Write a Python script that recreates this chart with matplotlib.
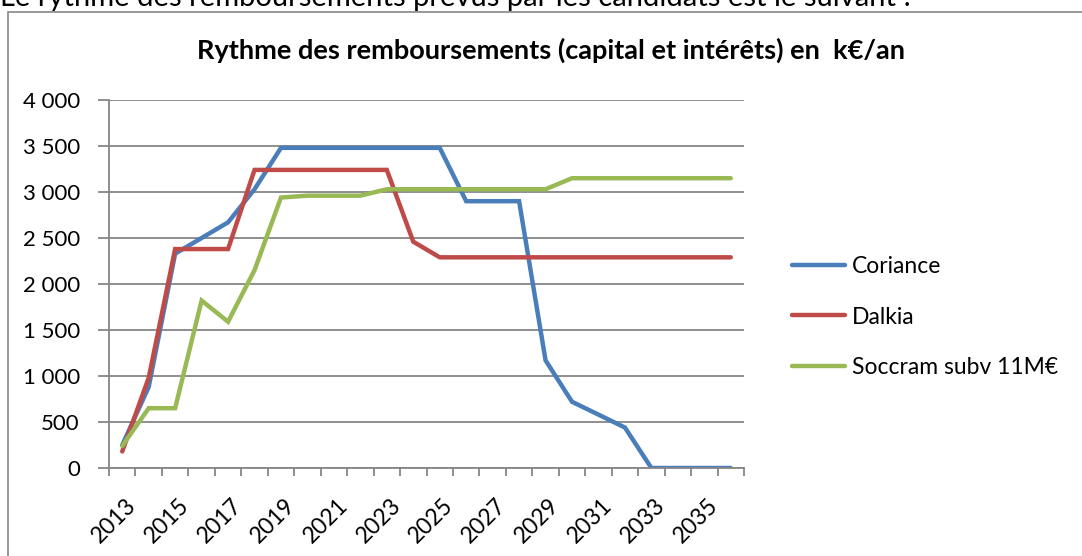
import matplotlib
matplotlib.use('Agg')
import matplotlib.pyplot as plt
import matplotlib.transforms as mtransforms
from matplotlib.patches import Rectangle
from matplotlib.ticker import FuncFormatter
import numpy as np

plt.rcParams['font.family'] = ['Lato', 'DejaVu Sans']

years = list(range(2013, 2037))
coriance = [250, 880, 2330, 2500, 2670, 3030, 3480, 3480, 3480, 3480, 3480, 3480, 3480,
            2900, 2900, 2900, 1170, 720, 580, 440, 0, 0, 0, 0]
dalkia = [180, 980, 2380, 2380, 2380, 3240, 3240, 3240, 3240, 3240, 3240, 2460, 2290,
          2290, 2290, 2290, 2290, 2290, 2290, 2290, 2290, 2290, 2290, 2290]
soccram = [240, 650, 650, 1820, 1590, 2150, 2940, 2960, 2960, 2960, 3030, 3030, 3030,
           3030, 3030, 3030, 3030, 3150, 3150, 3150, 3150, 3150, 3150, 3150]
series_names = ['Coriance', 'Dalkia', 'Soccram subv 11M€']
colors = ['#4A7EBB', '#BE4B48', '#98B954']

W, H = 1082, 556
fig = plt.figure(figsize=(W / 100, H / 100), dpi=100)

# sentence above the chart, mostly cut off by the top edge
fig.text(0.0, 1 - 6 / H, 'Le rythme des remboursements prévus par les candidats est le suivant :',
         fontsize=21, va='baseline', ha='left')

# chart frame (right side runs off the picture)
fig.patches.append(Rectangle((8 / W, -0.01), 1.0, 1 - 12 / H + 0.01,
                             transform=fig.transFigure, fill=False,
                             edgecolor='#868686', linewidth=1.2))

ax = fig.add_axes([109 / W, 1 - 468 / H, 635 / W, 368 / H])

x = np.arange(len(years))
for vals, name, c in zip([coriance, dalkia, soccram], series_names, colors):
    ax.plot(x, vals, color=c, linewidth=3.2, label=name, solid_capstyle='round',
            solid_joinstyle='miter')

ax.set_xlim(-0.5, len(years) - 0.5)
ax.set_ylim(0, 4000)
ax.set_yticks(np.arange(0, 4001, 500))
ax.yaxis.set_major_formatter(FuncFormatter(lambda v, p: f'{int(v):,}'.replace(',', ' ')))
ax.grid(axis='y', color='#868686', linewidth=1.3)
ax.set_axisbelow(True)

ax.set_xticks(x[::2])
ax.set_xticklabels([str(y) for y in years[::2]], rotation=45, ha='right',
                   rotation_mode='anchor')
ax.set_xticks(np.arange(-0.5, len(years)), minor=True)
ax.tick_params(axis='x', which='major', length=0, labelsize=16.5, pad=19)
ax.tick_params(axis='x', which='minor', length=6, width=1.3, color='#868686', direction='out')
ax.tick_params(axis='y', length=8, width=1.3, color='#868686', labelsize=16, pad=13)

shift = mtransforms.ScaledTranslation(3 / 100, 0, fig.dpi_scale_trans)
for lab in ax.get_xticklabels():
    lab.set_transform(lab.get_transform() + shift)

for s in ['top', 'right']:
    ax.spines[s].set_visible(False)
for s in ['left', 'bottom']:
    ax.spines[s].set_color('#868686')
    ax.spines[s].set_linewidth(1.3)

fig.text(551 / W, 1 - 50 / H, 'Rythme des remboursements (capital et intérêts) en  k€/an',
         fontsize=19.5, fontweight='bold', ha='center', va='center')

ax.legend(loc='center left', bbox_to_anchor=(783 / W, 1 - 317 / H),
          bbox_transform=fig.transFigure, frameon=False, fontsize=16.5,
          borderaxespad=0, borderpad=0.4,
          handlelength=2.3, handletextpad=0.3, labelspacing=1.3)

fig.savefig('out.png', dpi=100)
